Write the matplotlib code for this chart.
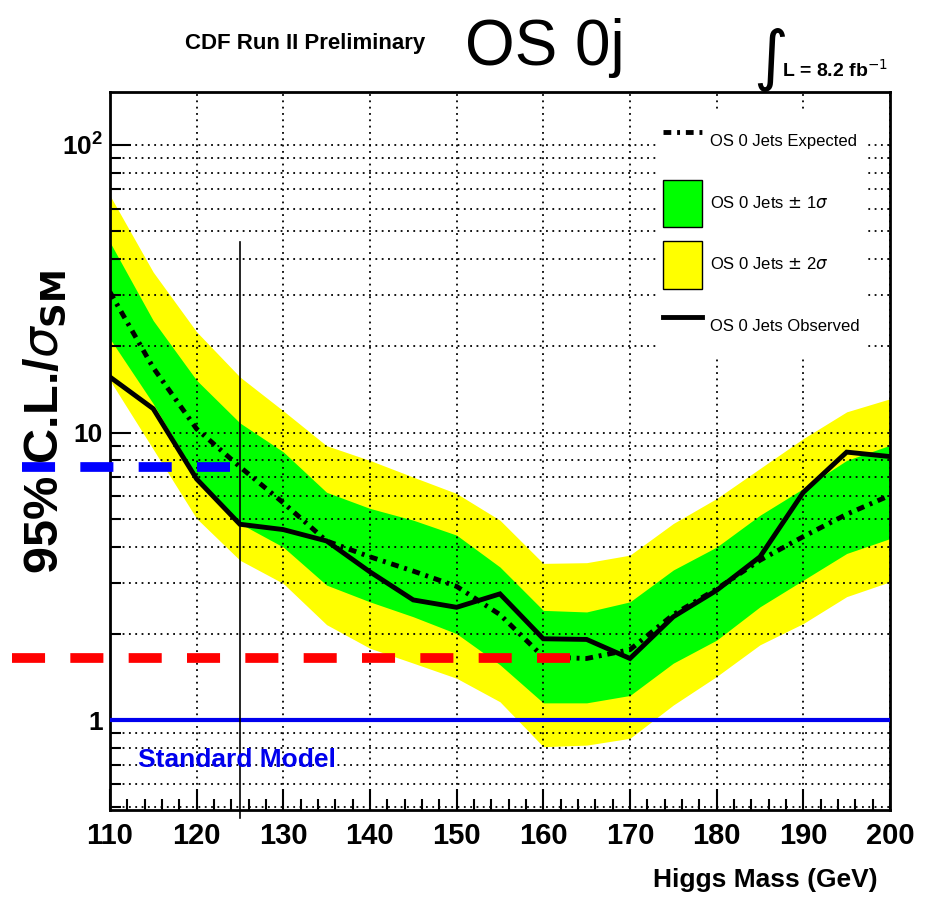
import matplotlib
matplotlib.use("Agg")
import matplotlib.pyplot as plt
from matplotlib.lines import Line2D
from matplotlib.patches import Patch
from matplotlib.ticker import FixedLocator, FixedFormatter, MultipleLocator, NullFormatter

# Higgs mass points (GeV) and 95% CL limits / sigma_SM
mass = [110, 115, 120, 125, 130, 135, 140, 145, 150, 155,
        160, 165, 170, 175, 180, 185, 190, 195, 200]
expected = [30.8, 16.8, 10.3, 7.6, 5.7, 4.2, 3.7, 3.3, 2.92, 2.33,
            1.66, 1.64, 1.76, 2.33, 2.86, 3.6, 4.35, 5.2, 6.05]
observed = [15.6, 12.1, 6.9, 4.8, 4.6, 4.2, 3.28, 2.62, 2.47, 2.75,
            1.92, 1.91, 1.64, 2.29, 2.83, 3.7, 6.2, 8.55, 8.25]
green_lo = [21.2, 12.6, 7.0, 4.83, 4.0, 2.95, 2.58, 2.29, 2.0, 1.56,
            1.15, 1.15, 1.22, 1.58, 1.90, 2.48, 3.07, 3.8, 4.28]
green_hi = [45.9, 24.5, 15.2, 10.8, 8.57, 6.2, 5.45, 4.96, 4.4, 3.41,
            2.41, 2.38, 2.58, 3.33, 4.0, 5.16, 6.39, 8.0, 9.03]
yellow_lo = [15.2, 8.75, 5.03, 3.6, 2.99, 2.15, 1.78, 1.58, 1.40, 1.16,
             0.81, 0.82, 0.866, 1.13, 1.42, 1.83, 2.17, 2.69, 3.03]
yellow_hi = [66.7, 36.1, 22.4, 15.6, 11.9, 9.0, 8.0, 7.0, 6.14, 4.96,
             3.51, 3.53, 3.75, 4.83, 5.9, 7.5, 9.53, 11.8, 13.1]

# reference markers drawn over the plot
blue_dash_x = [99.85, 123.9]
blue_dash_y = 7.6
red_dash_x = [98.7, 163.1]
red_dash_y = 1.64
mh_line_x = 125
mh_line_y = [0.458, 45.8]
sm_level = 1.0

plt.rcParams['font.family'] = ['Liberation Sans', 'DejaVu Sans']
plt.rcParams['mathtext.fontset'] = 'dejavusans'

fig = plt.figure(figsize=(9.31, 8.97), dpi=100)
ax = fig.add_axes([0.118, 0.097, 0.838, 0.8])

ax.fill_between(mass, yellow_lo, yellow_hi, color='#ffff00', lw=0, zorder=1)
ax.fill_between(mass, green_lo, green_hi, color='#00ff00', lw=0, zorder=1.2)

ax.axhline(sm_level, color='#0000ee', lw=3, zorder=2.6)
ax.plot(mass, expected, color='black', lw=3.5, ls=(0, (1.6, 1.2, 0.6, 1.2)), zorder=3)
ax.plot(mass, observed, color='black', lw=3.5, solid_joinstyle='miter', zorder=3.1)

ax.plot(blue_dash_x, [blue_dash_y] * 2, color='#0000ff', lw=7, ls=(0, (3.4, 2.6)),
        clip_on=False, zorder=4)
ax.plot(red_dash_x, [red_dash_y] * 2, color='#ff0000', lw=7, ls=(0, (3.4, 2.6)),
        clip_on=False, zorder=4)
ax.plot([mh_line_x] * 2, mh_line_y, color='black', lw=1.2, clip_on=False, zorder=3.5)

ax.text(113.2, 0.728, 'Standard Model', color='#0000ee', fontsize=19,
        fontweight='bold', va='center', ha='left', zorder=4)

ax.set_yscale('log')
ax.set_xlim(110, 200)
ax.set_ylim(0.488, 152)

ax.xaxis.set_major_locator(MultipleLocator(10))
ax.xaxis.set_minor_locator(MultipleLocator(2))
ax.yaxis.set_major_locator(FixedLocator([1, 10, 100]))
ax.yaxis.set_major_formatter(FixedFormatter(['1', '10', r'$\mathregular{10^2}$']))
minor_y = [m * d for d in (0.1, 1, 10, 100) for m in range(2, 10)]
ax.yaxis.set_minor_locator(FixedLocator(minor_y))
ax.yaxis.set_minor_formatter(NullFormatter())

ax.tick_params(which='both', direction='in', top=False, right=False, width=1.5)
ax.tick_params(which='major', length=15)
ax.tick_params(axis='x', which='major', pad=9, labelsize=21)
ax.tick_params(axis='y', which='major', pad=5, labelsize=19)
ax.tick_params(which='minor', length=8)
for lab in ax.get_xticklabels() + ax.get_yticklabels():
    lab.set_fontweight('bold')

ax.set_axisbelow(False)
ax.grid(True, which='major', axis='x', color='black', ls=(0, (1, 2.5)), lw=1.3)
ax.grid(True, which='both', axis='y', color='black', ls=(0, (1, 2.5)), lw=1.3)
for s in ax.spines.values():
    s.set_linewidth(2)

fig.text(878 / 931, 1 - 880 / 897, 'Higgs Mass (GeV)', fontsize=19,
         fontweight='bold', ha='right', va='center')
fig.text(45 / 931, 1 - 422 / 897, r'95% C.L./$\sigma_{\mathbf{SM}}$', fontsize=35,
         fontweight='bold', rotation=90, ha='center', va='center')

handles = [
    Line2D([], [], color='black', lw=3.5, ls=(0, (1.6, 1.2, 0.6, 1.2))),
    Patch(facecolor='#00ff00', edgecolor='black', lw=1),
    Patch(facecolor='#ffff00', edgecolor='black', lw=1),
    Line2D([], [], color='black', lw=3.5),
]
labels = ['OS 0 Jets Expected', r'OS 0 Jets $\pm$ 1$\sigma$',
          r'OS 0 Jets $\pm$ 2$\sigma$', 'OS 0 Jets Observed']
leg = ax.legend(handles, labels, loc='upper left', bbox_to_anchor=(0.69, 0.985),
                fontsize=12, handlelength=2.3, handleheight=4.0, labelspacing=0.85,
                handletextpad=0.5, frameon=True, fancybox=False, framealpha=1,
                edgecolor='white', facecolor='white', borderpad=0.4)
leg.set_zorder(6)

fig.text(305 / 931, 1 - 44 / 897, 'CDF Run II Preliminary', fontsize=16, fontweight='bold',
         ha='center', va='center')
fig.text(545 / 931, 1 - 48 / 897, 'OS 0j', fontsize=46, ha='center', va='center')
fig.text(770 / 931, 1 - 60 / 897, r'$\int$', fontsize=34, ha='center', va='center')
fig.text(782 / 931, 1 - 70 / 897, r'L = 8.2 fb$^{-1}$', fontsize=14, fontweight='bold',
         ha='left', va='center')

fig.savefig('out.png', dpi=100)
